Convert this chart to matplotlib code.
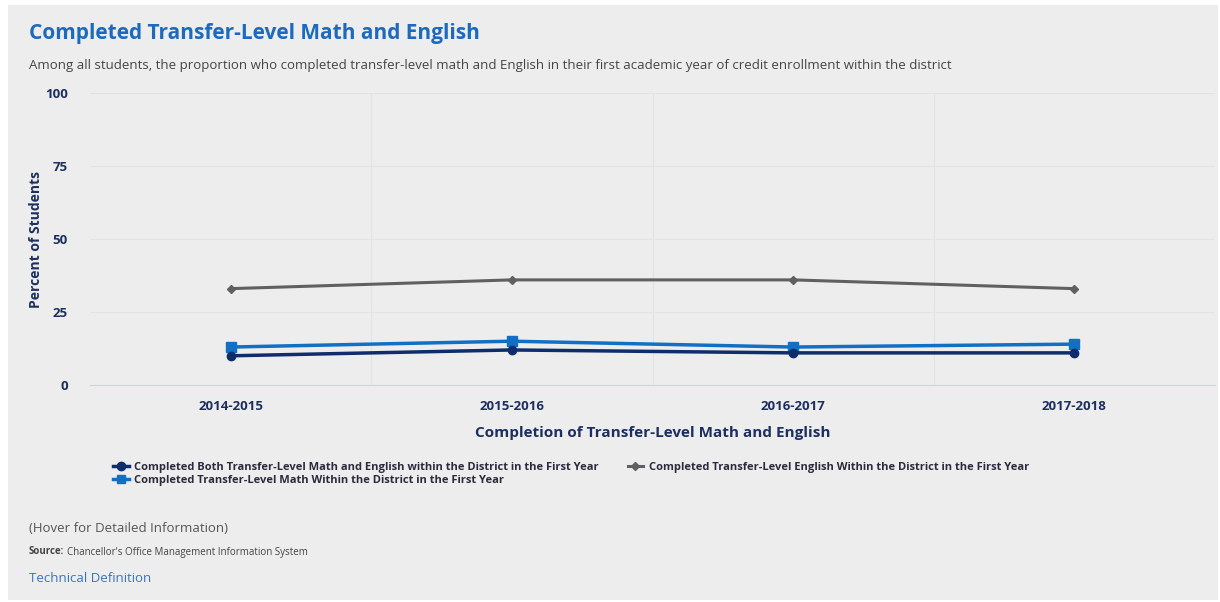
import matplotlib.pyplot as plt
from matplotlib.patches import Rectangle
from matplotlib.lines import Line2D

years = ["2014-2015", "2015-2016", "2016-2017", "2017-2018"]
both_pct = [10, 12, 11, 11]
math_pct = [13, 15, 13, 14]
english_pct = [33, 36, 36, 33]

labels = [
    "Completed Both Transfer-Level Math and English within the District in the First Year",
    "Completed Transfer-Level Math Within the District in the First Year",
    "Completed Transfer-Level English Within the District in the First Year",
]

NAVY = "#0d2d6c"
BLUE = "#1170c4"
GRAY = "#606060"
TXT = "#1c2f5e"
BG = "#ededed"

plt.rcParams["font.family"] = ["Open Sans", "DejaVu Sans"]

W, H = 1220, 602
fig = plt.figure(figsize=(W / 100, H / 100), dpi=100)
fig.patch.set_facecolor("white")
fig.patches.append(Rectangle((8 / W, 2 / H), 1210 / W, 595 / H,
                             transform=fig.transFigure, facecolor=BG,
                             edgecolor="none", zorder=-5))

ax = fig.add_axes([90 / W, (H - 385) / H, 1125 / W, 292 / H])
ax.set_facecolor(BG)
x = range(len(years))
ax.plot(x, both_pct, color=NAVY, lw=2.5, marker="o", ms=6, zorder=4)
ax.plot(x, math_pct, color=BLUE, lw=2.5, marker="s", ms=6.5, zorder=3)
ax.plot(x, english_pct, color=GRAY, lw=2.2, marker="D", ms=4, zorder=3)

ax.set_xlim(-0.5, 3.5)
ax.set_ylim(0, 100)
ax.set_yticks([0, 25, 50, 75, 100])
ax.set_xticks(list(x))
ax.set_xticklabels(years)
ax.set_xticks([0.5, 1.5, 2.5], minor=True)
ax.grid(axis="y", color="#e3e3e3", lw=0.8)
ax.grid(axis="x", which="minor", color="#e3e3e3", lw=0.8)
ax.grid(axis="x", which="major", visible=False)
for s in ["top", "right", "left"]:
    ax.spines[s].set_visible(False)
ax.spines["bottom"].set_color("#c9d5ea")
ax.tick_params(which="both", length=0)
ax.tick_params(axis="y", pad=16, labelsize=9.5, labelcolor=TXT)
ax.tick_params(axis="x", pad=11, labelsize=9.5, labelcolor=TXT)
for t in ax.get_xticklabels() + ax.get_yticklabels():
    t.set_fontweight("bold")
ax.set_ylabel("Percent of Students", fontsize=10, fontweight="bold", color=TXT, labelpad=-2)
ax.yaxis.set_label_coords(-47 / 1125, 0.5)
ax.set_xlabel("Completion of Transfer-Level Math and English", fontsize=11,
              fontweight="bold", color=TXT, labelpad=9)

handles = [
    Line2D([], [], color=NAVY, lw=2.5, marker="o", ms=6),
    Line2D([], [], color=BLUE, lw=2.5, marker="s", ms=6),
    Line2D([], [], color=GRAY, lw=2.2, marker="D", ms=4),
]
leg = fig.legend(handles, labels, ncol=2, loc="upper left",
                 bbox_to_anchor=(103 / W, 1 - 452 / H), frameon=False,
                 handlelength=1.4, handletextpad=0.5, columnspacing=2.6,
                 labelspacing=0.15, prop={"size": 8, "weight": "bold"})
for t in leg.get_texts():
    t.set_color("#2b2b3d")

fig.text(29 / W, 1 - 33 / H, "Completed Transfer-Level Math and English",
         fontsize=15, fontweight="bold", color="#1b6ac0", va="center")
fig.text(29 / W, 1 - 66 / H,
         "Among all students, the proportion who completed transfer-level math and English in their first academic year of credit enrollment within the district",
         fontsize=9.5, color="#444444", va="center")
fig.text(29 / W, 1 - 528 / H, "(Hover for Detailed Information)",
         fontsize=9.5, color="#555555", va="center")
fig.text(29 / W, 1 - 552 / H, "Source:", fontsize=7, fontweight="bold",
         color="#444444", va="center")
fig.text(67 / W, 1 - 552 / H, "Chancellor's Office Management Information System",
         fontsize=7, color="#444444", va="center")
fig.text(29 / W, 1 - 578 / H, "Technical Definition",
         fontsize=9.5, color="#3a74c0", va="center")

fig.savefig("out.png", dpi=100, facecolor=fig.get_facecolor())
